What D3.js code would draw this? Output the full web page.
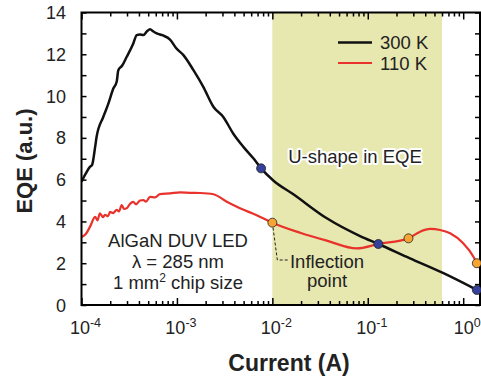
<!DOCTYPE html>
<html>
<head>
<meta charset="utf-8">
<script src="https://cdn.jsdelivr.net/npm/d3@7"></script>
<style>
  body { margin: 0; background: #fff; }
  text { font-family: "Liberation Sans", Arial, sans-serif; fill: #222; }
  .axis path { display: none; }
  .axis line { stroke: #000; stroke-width: 1.5; }
</style>
</head>
<body>
<div id="chart"></div>
<script>
// Chart size and plot box
var width = 481;
var height = 381;
var plotLeft = 81.5, plotRight = 480, plotTop = 12.5, plotBottom = 305;

// ----- data -----
// 300 K curve (current in A, EQE a.u.)
var current300 = [1.0e-4, 1.11e-4, 1.23e-4, 1.29e-4, 1.39e-4, 1.44e-4, 1.69e-4, 1.90e-4, 2.16e-4, 2.34e-4,
  2.43e-4, 2.66e-4, 2.98e-4, 3.49e-4, 3.79e-4, 4.10e-4, 4.45e-4, 4.86e-4, 5.23e-4, 5.62e-4,
  6.14e-4, 7.15e-4, 8.47e-4, 9.79e-4, 1.17e-3, 1.49e-3, 1.89e-3, 2.41e-3, 3.06e-3, 3.90e-3,
  4.97e-3, 6.32e-3, 7.62e-3, 1.03e-2, 1.66e-2, 3.72e-2, 8.30e-2, 0.129, 0.277, 0.621, 1.39];
var eqe300 = [5.9, 6.3, 6.62, 6.7, 7.57, 8.05, 9.0, 9.6, 10.37, 10.7,
  11.24, 11.45, 11.88, 12.52, 12.92, 12.95, 12.92, 13.1, 13.2, 13.1,
  13.0, 12.9, 12.7, 12.3, 11.96, 11.24, 10.44, 9.49, 9.0, 8.2,
  7.57, 7.02, 6.54, 5.95, 5.3, 4.15, 3.3, 2.92, 2.23, 1.52, 0.72];

// 110 K curve
var current110 = [1.0e-4, 1.11e-4, 1.23e-4, 1.39e-4, 1.47e-4, 1.56e-4, 1.68e-4, 1.76e-4, 1.90e-4, 1.99e-4,
  2.14e-4, 2.34e-4, 2.47e-4, 2.64e-4, 2.79e-4, 2.98e-4, 3.23e-4, 3.49e-4, 3.73e-4, 4.10e-4,
  4.45e-4, 4.74e-4, 5.23e-4, 5.89e-4, 6.65e-4, 8.47e-4, 1.08e-3, 1.37e-3, 1.75e-3, 2.41e-3,
  3.33e-3, 4.58e-3, 6.85e-3, 1.0e-2, 1.95e-2, 3.72e-2, 7.67e-2, 0.129, 0.267, 0.353, 0.45,
  0.573, 0.73, 1.0, 1.28, 1.39, 1.5];
var eqe110 = [3.25, 3.4, 3.75, 4.22, 4.05, 4.39, 4.2, 4.32, 4.25, 4.46,
  4.4, 4.55, 4.48, 4.78, 4.6, 4.63, 4.85, 4.94, 4.82, 5.0,
  5.02, 4.95, 5.18, 5.15, 5.31, 5.34, 5.39, 5.37, 5.36, 5.3,
  4.94, 4.63, 4.3, 3.94, 3.46, 3.08, 2.71, 2.92, 3.19, 3.51, 3.64,
  3.59, 3.43, 2.95, 2.31, 2.0, 1.77];

// marked points
var blueDotsCurrent = [7.62e-3, 0.129, 1.39];
var blueDotsEqe = [6.54, 2.92, 0.72];
var orangeDotsCurrent = [1.0e-2, 0.267, 1.39];
var orangeDotsEqe = [3.94, 3.19, 2.0];

// shaded "U-shape" current range
var shadeRange = [1.0e-2, 0.6];

// ticks
var decades = [1e-4, 1e-3, 1e-2, 1e-1, 1];
var decadeExp = ["-4", "-3", "-2", "-1", "0"];
var yTicks = [0, 2, 4, 6, 8, 10, 12, 14];

var seriesNames = ["300 K", "110 K"];
var seriesColors = ["#111", "#e8322b"];

// ----- svg -----
var svg = d3.select("#chart").append("svg")
  .attr("width", width)
  .attr("height", height);

var x = d3.scaleLog().domain([1e-4, 1.5]).range([plotLeft, plotRight]);
var y = d3.scaleLinear().domain([0, 14]).range([plotBottom, plotTop]);

// shaded band
svg.append("rect")
  .attr("x", x(shadeRange[0]))
  .attr("y", plotTop)
  .attr("width", x(shadeRange[1]) - x(shadeRange[0]))
  .attr("height", plotBottom - plotTop)
  .attr("fill", "#e7e7b0");

// minor log ticks
var logTicks = [];
decades.forEach(function(d) {
  for (var k = 1; k < 10; k++) {
    if (d * k <= 1.5) logTicks.push(d * k);
  }
});

var xBottom = d3.axisBottom(x).tickValues(logTicks).tickFormat("")
  .tickSizeInner(-4).tickSizeOuter(0);
var xTop = d3.axisTop(x).tickValues(logTicks).tickFormat("")
  .tickSizeInner(-4).tickSizeOuter(0);

svg.append("g").attr("class", "axis")
  .attr("transform", "translate(0," + plotBottom + ")")
  .call(xBottom)
  .selectAll(".tick line")
  .attr("y2", function(d) { return decades.indexOf(d) >= 0 ? -7 : -4; });

svg.append("g").attr("class", "axis")
  .attr("transform", "translate(0," + plotTop + ")")
  .call(xTop)
  .selectAll(".tick line")
  .attr("y2", function(d) { return decades.indexOf(d) >= 0 ? 7 : 4; });

var yLeft = d3.axisLeft(y).tickValues(d3.range(0, 15)).tickFormat("")
  .tickSizeInner(-5).tickSizeOuter(0);
var yRight = d3.axisRight(y).tickValues(d3.range(0, 15)).tickFormat("")
  .tickSizeInner(-5).tickSizeOuter(0);

svg.append("g").attr("class", "axis")
  .attr("transform", "translate(" + plotLeft + ",0)")
  .call(yLeft);
svg.append("g").attr("class", "axis")
  .attr("transform", "translate(" + plotRight + ",0)")
  .call(yRight);

// y tick labels
svg.selectAll(".ylab").data(yTicks).enter().append("text")
  .attr("class", "ylab")
  .attr("x", 66)
  .attr("y", function(d) { return y(d) + 6.5; })
  .attr("text-anchor", "end")
  .attr("font-size", 18)
  .text(function(d) { return d; });

// x tick labels with superscripts
var xl = svg.selectAll(".xlab").data(decades).enter().append("text")
  .attr("class", "xlab")
  .attr("x", function(d) { return x(d) + 4; })
  .attr("y", 334)
  .attr("text-anchor", "middle")
  .attr("font-size", 18);
xl.append("tspan").text("10");
xl.append("tspan")
  .attr("dy", -7)
  .attr("font-size", 12.5)
  .text(function(d, i) { return decadeExp[i]; });

// curves
svg.append("clipPath").attr("id", "clip")
  .append("rect").attr("x", plotLeft).attr("y", plotTop)
  .attr("width", plotRight - plotLeft).attr("height", plotBottom - plotTop);

var pts300 = current300.map(function(c, i) { return [c, eqe300[i]]; });
var pts110 = current110.map(function(c, i) { return [c, eqe110[i]]; });

var smoothLine = d3.line()
  .x(function(d) { return x(d[0]); })
  .y(function(d) { return y(d[1]); })
  .curve(d3.curveMonotoneX);

svg.append("path")
  .attr("clip-path", "url(#clip)")
  .attr("d", smoothLine(pts110))
  .attr("fill", "none")
  .attr("stroke", seriesColors[1])
  .attr("stroke-width", 2.2);

svg.append("path")
  .attr("clip-path", "url(#clip)")
  .attr("d", smoothLine(pts300))
  .attr("fill", "none")
  .attr("stroke", seriesColors[0])
  .attr("stroke-width", 2.5);

// frame
svg.append("rect")
  .attr("x", plotLeft).attr("y", plotTop)
  .attr("width", plotRight - plotLeft).attr("height", plotBottom - plotTop)
  .attr("fill", "none")
  .attr("stroke", "#000")
  .attr("stroke-width", 2);

// leader for the inflection point
svg.append("path")
  .attr("d", "M" + x(orangeDotsCurrent[0]) + "," + y(orangeDotsEqe[0]) +
    " L" + (x(orangeDotsCurrent[0]) + 5) + ",260 L288,260")
  .attr("fill", "none")
  .attr("stroke", "#222")
  .attr("stroke-width", 1)
  .attr("stroke-dasharray", "3,2");

// dots
svg.selectAll(".bdot").data(blueDotsCurrent).enter().append("circle")
  .attr("cx", function(d) { return x(d); })
  .attr("cy", function(d, i) { return y(blueDotsEqe[i]); })
  .attr("r", 4.5)
  .attr("fill", "#34409a")
  .attr("stroke", "#222")
  .attr("stroke-width", 0.8);

svg.selectAll(".odot").data(orangeDotsCurrent).enter().append("circle")
  .attr("cx", function(d) { return x(d); })
  .attr("cy", function(d, i) { return y(orangeDotsEqe[i]); })
  .attr("r", 4.5)
  .attr("fill", "#f6a534")
  .attr("stroke", "#222")
  .attr("stroke-width", 0.8);

// legend
seriesNames.forEach(function(name, i) {
  var ly = 42.5 + i * 20.5;
  svg.append("line")
    .attr("x1", 338).attr("x2", 372)
    .attr("y1", ly).attr("y2", ly)
    .attr("stroke", seriesColors[i])
    .attr("stroke-width", i === 0 ? 2.5 : 2);
  svg.append("text")
    .attr("x", 380).attr("y", ly + 6.5)
    .attr("font-size", 18.5)
    .text(name);
});

// annotations
svg.append("text")
  .attr("x", 355).attr("y", 163)
  .attr("text-anchor", "middle")
  .attr("font-size", 18.5)
  .attr("stroke", "#fff")
  .attr("stroke-width", 4)
  .attr("stroke-linejoin", "round")
  .attr("paint-order", "stroke")
  .text("U-shape in EQE");

var note = svg.append("text")
  .attr("text-anchor", "middle")
  .attr("font-size", 18.5);
note.append("tspan").attr("x", 178).attr("y", 247).text("AlGaN DUV LED");
note.append("tspan").attr("x", 178).attr("y", 268).text("λ = 285 nm");
var l3 = note.append("tspan").attr("x", 178).attr("y", 289);
l3.append("tspan").text("1 mm");
l3.append("tspan").attr("dy", -7).attr("font-size", 12).text("2");
l3.append("tspan").attr("dy", 7).text(" chip size");

var infl = svg.append("text")
  .attr("text-anchor", "middle")
  .attr("font-size", 18.5);
infl.append("tspan").attr("x", 327).attr("y", 268).text("Inflection");
infl.append("tspan").attr("x", 327).attr("y", 287).text("point");

// axis titles
svg.append("text")
  .attr("x", 289).attr("y", 371)
  .attr("text-anchor", "middle")
  .attr("font-size", 23)
  .attr("font-weight", "bold")
  .text("Current (A)");

svg.append("text")
  .attr("transform", "translate(32,161) rotate(-90)")
  .attr("text-anchor", "middle")
  .attr("font-size", 22)
  .attr("font-weight", "bold")
  .text("EQE (a.u.)");
</script>
</body>
</html>
